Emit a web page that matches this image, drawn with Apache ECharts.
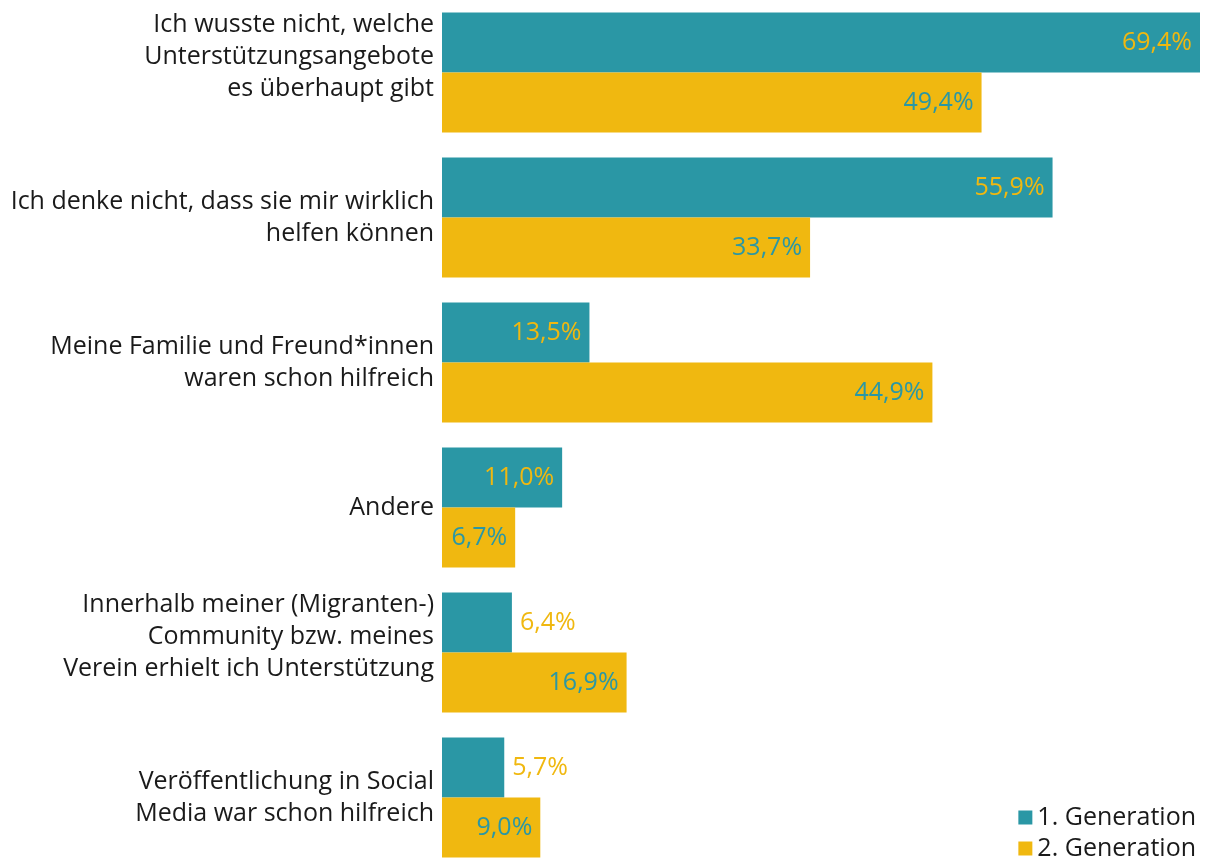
<!DOCTYPE html>
<html>
<head>
<meta charset="utf-8">
<script src="https://cdn.jsdelivr.net/npm/echarts@6/dist/echarts.min.js"></script>
<style>
  html, body { margin: 0; padding: 0; background: #fff; }
  #chart { width: 1208px; height: 858px; }
</style>
</head>
<body>
<div id="chart"></div>
<script>
// Antworten (Kategorien)
const categories = [
  'Ich wusste nicht, welche\nUnterstützungsangebote\nes überhaupt gibt',
  'Ich denke nicht, dass sie mir wirklich\nhelfen können',
  'Meine Familie und Freund*innen\nwaren schon hilfreich',
  'Andere',
  'Innerhalb meiner (Migranten-)\nCommunity bzw. meines\nVerein erhielt ich Unterstützung',
  'Veröffentlichung in Social\nMedia war schon hilfreich'
]
const gen1 = [69.4, 55.9, 13.5, 11.0, 6.4, 5.7]
const gen2 = [49.4, 33.7, 44.9, 6.7, 16.9, 9.0]

const teal = '#2a97a5'
const yellow = '#f0b810'
const font = '"Open Sans", "Noto Sans", sans-serif'

// sehr kurze Balken bekommen das Label außerhalb
const fmt = v => v.toFixed(1).replace('.', ',') + '%'
const makeData = (values, textColor) => values.map(v => {
  const outside = v < 6.5
  return {
    value: v,
    label: {
      position: outside ? 'right' : 'insideRight',
      color: outside ? yellow : textColor
    }
  }
})

const chart = echarts.init(document.getElementById('chart'))
chart.setOption({
  animation: false,
  textStyle: { fontFamily: font },
  grid: { left: 442, right: 8, top: 0, height: 870, outerBoundsMode: 'none' },
  legend: {
    orient: 'vertical',
    right: 7,
    bottom: -8,
    itemWidth: 14,
    itemHeight: 14,
    itemGap: 6,
    icon: 'rect',
    textStyle: { fontSize: 25, color: '#1a1a1a', fontFamily: font }
  },
  xAxis: {
    type: 'value',
    min: 0,
    max: 69.4,
    show: false
  },
  yAxis: {
    type: 'category',
    inverse: true,
    data: categories,
    axisLine: { show: false },
    axisTick: { show: false },
    axisLabel: {
      margin: 8,
      fontSize: 25,
      lineHeight: 32,
      color: '#1a1a1a',
      align: 'right',
      // dreizeilige Labels sitzen etwas höher
      formatter: v => v.split('\n').length === 3 ? v + '\n ' : v
    }
  },
  series: [
    {
      name: '1. Generation',
      type: 'bar',
      barWidth: 60,
      barGap: '0%',
      itemStyle: { color: teal },
      label: { show: true, fontSize: 25, distance: 8, formatter: p => fmt(p.value) },
      data: makeData(gen1, yellow)
    },
    {
      name: '2. Generation',
      type: 'bar',
      barWidth: 60,
      itemStyle: { color: yellow },
      label: { show: true, fontSize: 25, distance: 8, formatter: p => fmt(p.value) },
      data: makeData(gen2, teal)
    }
  ]
})
</script>
</body>
</html>
